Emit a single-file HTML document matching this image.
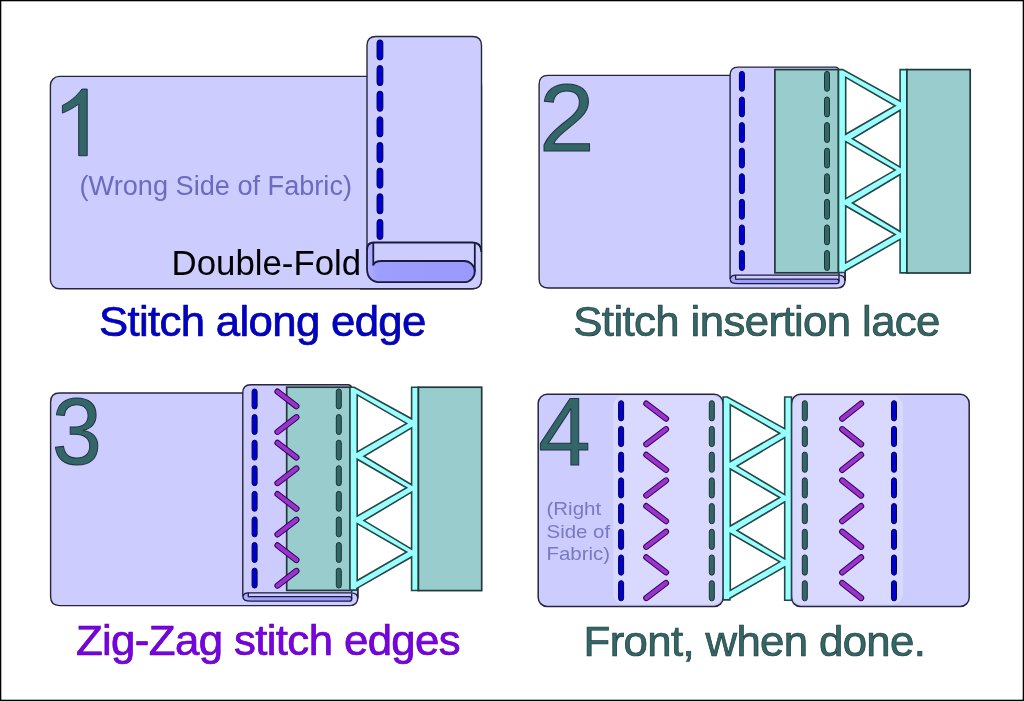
<!DOCTYPE html><html><head><meta charset="utf-8"><style>html,body{margin:0;padding:0;background:#fff;}svg{display:block;will-change:transform;}text{font-family:"Liberation Sans",sans-serif;}</style></head><body>
<svg width="1024" height="701" viewBox="0 0 1024 701">
<defs>
<linearGradient id="gTube" x1="0" y1="0" x2="1" y2="0"><stop offset="0" stop-color="#b0b0ff"/><stop offset="0.1" stop-color="#9e9eff"/><stop offset="1" stop-color="#9999ff"/></linearGradient>
<linearGradient id="gFold" x1="0" y1="0" x2="1" y2="0"><stop offset="0" stop-color="#b0b0ff"/><stop offset="0.1" stop-color="#c4c4ff"/><stop offset="1" stop-color="#ccccff"/></linearGradient>
</defs>
<rect x="0" y="0" width="1024" height="701" fill="#ffffff"/>
<rect x="50.4" y="76.4" width="431.1" height="212.4" rx="9" fill="#ccccff" stroke="#25253d" stroke-width="1.4"/>
<path d="M367.0,288.8 V45.5 Q367.0,36.5 376,36.5 H472.5 Q481.5,36.5 481.5,45.5 V279.8 Q481.5,288.8 472.5,288.8 Z" fill="#ccccff" stroke="none"/>
<path d="M367.0,250 V45.5 Q367.0,36.5 376,36.5 H472.5 Q481.5,36.5 481.5,45.5 V279.8 Q481.5,288.8 472.5,288.8 H360" fill="none" stroke="#25253d" stroke-width="1.4"/>
<rect x="377.05" y="39.9" width="5.8" height="20.1" rx="2.9" fill="#0000cc" stroke="#000055" stroke-width="1"/>
<rect x="377.05" y="65.54" width="5.8" height="20.1" rx="2.9" fill="#0000cc" stroke="#000055" stroke-width="1"/>
<rect x="377.05" y="91.18" width="5.8" height="20.1" rx="2.9" fill="#0000cc" stroke="#000055" stroke-width="1"/>
<rect x="377.05" y="116.82" width="5.8" height="20.1" rx="2.9" fill="#0000cc" stroke="#000055" stroke-width="1"/>
<rect x="377.05" y="142.46" width="5.8" height="20.1" rx="2.9" fill="#0000cc" stroke="#000055" stroke-width="1"/>
<rect x="377.05" y="168.1" width="5.8" height="20.1" rx="2.9" fill="#0000cc" stroke="#000055" stroke-width="1"/>
<rect x="377.05" y="193.74" width="5.8" height="20.1" rx="2.9" fill="#0000cc" stroke="#000055" stroke-width="1"/>
<rect x="377.05" y="219.38" width="5.8" height="20.1" rx="2.9" fill="#0000cc" stroke="#000055" stroke-width="1"/>
<path d="M373.3,242.5 V265.4 Q373.8,261 382,261 H464.2 A10.6,10.6 0 0 1 464.2,282.2 H380.7 Q367,282.2 367,268.2 V250 Q367,242.5 373.7,242.5 Z" fill="url(#gTube)" stroke="none"/>
<path d="M367,250 Q367,242.5 373.7,242.5 H472.3 Q481.4,242.5 481.4,252" fill="none" stroke="#1a1a3c" stroke-width="1.8"/>
<path d="M373.3,242.5 V265.4" fill="none" stroke="#1a1a3c" stroke-width="1.8"/>
<path d="M474.8,243.3 V271.6" fill="none" stroke="#1a1a3c" stroke-width="1.8"/>
<path d="M373.3,265.4 Q373.8,261 382,261 H464.2 A10.6,10.6 0 0 1 464.2,282.2 H380.7 Q367,282.2 367,268.2 V250" fill="none" stroke="#1a1a3c" stroke-width="1.8"/>
<path d="M87.2,155.7 H78.7 V104 C74,107.5 68,111 62.4,113.1 V105.4 C69,102.5 77,96 81.8,89.1 H87.2 Z" fill="#336666" stroke="#223344" stroke-width="1"/>
<text x="79.5" y="195" font-size="27.15" fill="#6b6bc0">(Wrong Side of Fabric)</text>
<text x="171.6" y="275.3" font-size="34.8" fill="#000000">Double-Fold</text>
<text transform="translate(99,336.4) scale(1.02,1)" x="0" y="0" font-size="42.9" letter-spacing="-0.66" fill="#0000cc" stroke="#000088" stroke-width="0.7">Stitch along edge</text>
<path d="M548.1,75.4 H731 V270 H845.1 V280 Q845.1,288 837,288 H548.1 Q539.1,288 539.1,279 V84.4 Q539.1,75.4 548.1,75.4 Z" fill="#ccccff" stroke="#25253d" stroke-width="1.4"/>
<path d="M730.1,288 V75.1 Q730.1,67.1 738.1,67.1 H835 Q839,67.1 839,71 V287.2 H730.3 Z" fill="#ccccff" stroke="none"/>
<path d="M730.1,279 V75.1 Q730.1,67.1 738.1,67.1 H835 Q839,67.1 839,71 V275" fill="none" stroke="#25253d" stroke-width="1.4"/>
<path d="M845.1,270 V280" fill="none" stroke="#25253d" stroke-width="1.4"/>
<rect x="739.4" y="71.4" width="5" height="19.9" rx="2.5" fill="#0000cc" stroke="#000055" stroke-width="1"/>
<rect x="739.4" y="96.99" width="5" height="19.9" rx="2.5" fill="#0000cc" stroke="#000055" stroke-width="1"/>
<rect x="739.4" y="122.58" width="5" height="19.9" rx="2.5" fill="#0000cc" stroke="#000055" stroke-width="1"/>
<rect x="739.4" y="148.17" width="5" height="19.9" rx="2.5" fill="#0000cc" stroke="#000055" stroke-width="1"/>
<rect x="739.4" y="173.76" width="5" height="19.9" rx="2.5" fill="#0000cc" stroke="#000055" stroke-width="1"/>
<rect x="739.4" y="199.35" width="5" height="19.9" rx="2.5" fill="#0000cc" stroke="#000055" stroke-width="1"/>
<rect x="739.4" y="224.94" width="5" height="19.9" rx="2.5" fill="#0000cc" stroke="#000055" stroke-width="1"/>
<rect x="739.4" y="250.53" width="5" height="19.9" rx="2.5" fill="#0000cc" stroke="#000055" stroke-width="1"/>
<rect x="774.9" y="69.6" width="63.5" height="203.2" fill="#99cccc" stroke="#223838" stroke-width="1.7"/>
<rect x="824.5" y="71.4" width="5" height="19.9" rx="2.5" fill="#336666" stroke="#1a3333" stroke-width="1"/>
<rect x="824.5" y="96.99" width="5" height="19.9" rx="2.5" fill="#336666" stroke="#1a3333" stroke-width="1"/>
<rect x="824.5" y="122.58" width="5" height="19.9" rx="2.5" fill="#336666" stroke="#1a3333" stroke-width="1"/>
<rect x="824.5" y="148.17" width="5" height="19.9" rx="2.5" fill="#336666" stroke="#1a3333" stroke-width="1"/>
<rect x="824.5" y="173.76" width="5" height="19.9" rx="2.5" fill="#336666" stroke="#1a3333" stroke-width="1"/>
<rect x="824.5" y="199.35" width="5" height="19.9" rx="2.5" fill="#336666" stroke="#1a3333" stroke-width="1"/>
<rect x="824.5" y="224.94" width="5" height="19.9" rx="2.5" fill="#336666" stroke="#1a3333" stroke-width="1"/>
<rect x="824.5" y="250.53" width="5" height="19.9" rx="2.5" fill="#336666" stroke="#1a3333" stroke-width="1"/>
<polygon points="838.5,69.6 842.7,69.6 900.1,101.2 900.1,69.6 906.9,69.6 906.9,272.9 900.1,272.9 900.1,239.4 845.3,270.8 845.3,272.5 838.5,272.5" fill="#99ffff" stroke="#264646" stroke-width="1.6" stroke-linejoin="miter"/>
<polygon points="845.7,77.3 845.7,134.3 895.1,105.8" fill="#ffffff" stroke="#264646" stroke-width="1.6"/>
<polygon points="845.7,141.6 845.7,198.6 895.1,170.1" fill="#ffffff" stroke="#264646" stroke-width="1.6"/>
<polygon points="845.7,205.95 845.7,262.95 895.1,234.45" fill="#ffffff" stroke="#264646" stroke-width="1.6"/>
<polygon points="900.1,110.2 900.1,167.2 852.5,138.7" fill="#ffffff" stroke="#264646" stroke-width="1.6"/>
<polygon points="900.1,174.5 900.1,231.5 852.5,203" fill="#ffffff" stroke="#264646" stroke-width="1.6"/>
<rect x="906.9" y="69.6" width="63.3" height="203.4" fill="#99cccc" stroke="#223838" stroke-width="1.7"/>
<path d="M735.6,275.2 V279.5 Q736.1,279.1 738,279.1 H836.75 A2.25,2.25 0 0 1 836.75,283.6 H738.3 Q730.3,283.6 730.3,279.4 V279.4 Q730.3,275.2 736,275.2 Z" fill="url(#gTube)" stroke="none"/>
<path d="M730.3,279.4 Q730.3,275.2 736,275.2 H838 Q845.1,275.2 845.1,281" fill="none" stroke="#1a1a3c" stroke-width="1.3"/>
<path d="M735.6,275.2 V279.5" fill="none" stroke="#1a1a3c" stroke-width="1.3"/>
<path d="M839,276 V281.35" fill="none" stroke="#1a1a3c" stroke-width="1.3"/>
<path d="M735.6,279.5 Q736.1,279.1 738,279.1 H836.75 A2.25,2.25 0 0 1 836.75,283.6 H738.3 Q730.3,283.6 730.3,279.4 V279.4" fill="none" stroke="#1a1a3c" stroke-width="1.3"/>
<text transform="translate(538.9,151) scale(1.04,1)" x="0" y="0" font-size="96" fill="#336666" stroke="#223344" stroke-width="1">2</text>
<text transform="translate(573.3,336.4) scale(1.02,1)" x="0" y="0" font-size="42.9" letter-spacing="-0.6" fill="#336666" stroke="#1d3838" stroke-width="0.7">Stitch insertion lace</text>
<path d="M59.6,393 H243.7 V587.6 H357.8 V597.6 Q357.8,605.6 349.7,605.6 H59.6 Q50.6,605.6 50.6,596.6 V402 Q50.6,393 59.6,393 Z" fill="#ccccff" stroke="#25253d" stroke-width="1.4"/>
<path d="M242.8,605.6 V392.7 Q242.8,384.7 250.8,384.7 H347.7 Q351.7,384.7 351.7,388.6 V604.8 H243 Z" fill="#ccccff" stroke="none"/>
<path d="M242.8,596.6 V392.7 Q242.8,384.7 250.8,384.7 H347.7 Q351.7,384.7 351.7,388.6 V592.6" fill="none" stroke="#25253d" stroke-width="1.4"/>
<path d="M357.8,587.6 V597.6" fill="none" stroke="#25253d" stroke-width="1.4"/>
<rect x="252.1" y="389" width="5" height="19.9" rx="2.5" fill="#0000cc" stroke="#000055" stroke-width="1"/>
<rect x="252.1" y="414.59" width="5" height="19.9" rx="2.5" fill="#0000cc" stroke="#000055" stroke-width="1"/>
<rect x="252.1" y="440.18" width="5" height="19.9" rx="2.5" fill="#0000cc" stroke="#000055" stroke-width="1"/>
<rect x="252.1" y="465.77" width="5" height="19.9" rx="2.5" fill="#0000cc" stroke="#000055" stroke-width="1"/>
<rect x="252.1" y="491.36" width="5" height="19.9" rx="2.5" fill="#0000cc" stroke="#000055" stroke-width="1"/>
<rect x="252.1" y="516.95" width="5" height="19.9" rx="2.5" fill="#0000cc" stroke="#000055" stroke-width="1"/>
<rect x="252.1" y="542.54" width="5" height="19.9" rx="2.5" fill="#0000cc" stroke="#000055" stroke-width="1"/>
<rect x="252.1" y="568.13" width="5" height="19.9" rx="2.5" fill="#0000cc" stroke="#000055" stroke-width="1"/>
<rect x="286.7" y="387.2" width="63.5" height="203.2" fill="#99cccc" stroke="#223838" stroke-width="1.7"/>
<rect x="336.3" y="389" width="5" height="19.9" rx="2.5" fill="#336666" stroke="#1a3333" stroke-width="1"/>
<rect x="336.3" y="414.59" width="5" height="19.9" rx="2.5" fill="#336666" stroke="#1a3333" stroke-width="1"/>
<rect x="336.3" y="440.18" width="5" height="19.9" rx="2.5" fill="#336666" stroke="#1a3333" stroke-width="1"/>
<rect x="336.3" y="465.77" width="5" height="19.9" rx="2.5" fill="#336666" stroke="#1a3333" stroke-width="1"/>
<rect x="336.3" y="491.36" width="5" height="19.9" rx="2.5" fill="#336666" stroke="#1a3333" stroke-width="1"/>
<rect x="336.3" y="516.95" width="5" height="19.9" rx="2.5" fill="#336666" stroke="#1a3333" stroke-width="1"/>
<rect x="336.3" y="542.54" width="5" height="19.9" rx="2.5" fill="#336666" stroke="#1a3333" stroke-width="1"/>
<rect x="336.3" y="568.13" width="5" height="19.9" rx="2.5" fill="#336666" stroke="#1a3333" stroke-width="1"/>
<line x1="277.5" y1="391.6" x2="296.4" y2="406.2" stroke="#330055" stroke-width="6.2" stroke-linecap="round"/>
<line x1="277.5" y1="391.6" x2="296.4" y2="406.2" stroke="#9933cc" stroke-width="4.2" stroke-linecap="round"/>
<line x1="296.4" y1="417.23" x2="277.5" y2="431.83" stroke="#330055" stroke-width="6.2" stroke-linecap="round"/>
<line x1="296.4" y1="417.23" x2="277.5" y2="431.83" stroke="#9933cc" stroke-width="4.2" stroke-linecap="round"/>
<line x1="277.5" y1="442.86" x2="296.4" y2="457.46" stroke="#330055" stroke-width="6.2" stroke-linecap="round"/>
<line x1="277.5" y1="442.86" x2="296.4" y2="457.46" stroke="#9933cc" stroke-width="4.2" stroke-linecap="round"/>
<line x1="296.4" y1="468.49" x2="277.5" y2="483.09" stroke="#330055" stroke-width="6.2" stroke-linecap="round"/>
<line x1="296.4" y1="468.49" x2="277.5" y2="483.09" stroke="#9933cc" stroke-width="4.2" stroke-linecap="round"/>
<line x1="277.5" y1="494.12" x2="296.4" y2="508.72" stroke="#330055" stroke-width="6.2" stroke-linecap="round"/>
<line x1="277.5" y1="494.12" x2="296.4" y2="508.72" stroke="#9933cc" stroke-width="4.2" stroke-linecap="round"/>
<line x1="296.4" y1="519.75" x2="277.5" y2="534.35" stroke="#330055" stroke-width="6.2" stroke-linecap="round"/>
<line x1="296.4" y1="519.75" x2="277.5" y2="534.35" stroke="#9933cc" stroke-width="4.2" stroke-linecap="round"/>
<line x1="277.5" y1="545.38" x2="296.4" y2="559.98" stroke="#330055" stroke-width="6.2" stroke-linecap="round"/>
<line x1="277.5" y1="545.38" x2="296.4" y2="559.98" stroke="#9933cc" stroke-width="4.2" stroke-linecap="round"/>
<line x1="296.4" y1="571.01" x2="277.5" y2="585.61" stroke="#330055" stroke-width="6.2" stroke-linecap="round"/>
<line x1="296.4" y1="571.01" x2="277.5" y2="585.61" stroke="#9933cc" stroke-width="4.2" stroke-linecap="round"/>
<polygon points="350,387.2 354.2,387.2 411.6,418.8 411.6,387.2 418.4,387.2 418.4,590.5 411.6,590.5 411.6,557 356.8,588.4 356.8,590.1 350,590.1" fill="#99ffff" stroke="#264646" stroke-width="1.6" stroke-linejoin="miter"/>
<polygon points="357.2,394.9 357.2,451.9 406.6,423.4" fill="#ffffff" stroke="#264646" stroke-width="1.6"/>
<polygon points="357.2,459.2 357.2,516.2 406.6,487.7" fill="#ffffff" stroke="#264646" stroke-width="1.6"/>
<polygon points="357.2,523.55 357.2,580.55 406.6,552.05" fill="#ffffff" stroke="#264646" stroke-width="1.6"/>
<polygon points="411.6,427.8 411.6,484.8 364,456.3" fill="#ffffff" stroke="#264646" stroke-width="1.6"/>
<polygon points="411.6,492.1 411.6,549.1 364,520.6" fill="#ffffff" stroke="#264646" stroke-width="1.6"/>
<rect x="418.4" y="387.2" width="63.3" height="203.4" fill="#99cccc" stroke="#223838" stroke-width="1.7"/>
<path d="M248.3,592.8 V597.1 Q248.8,596.7 250.7,596.7 H349.45 A2.25,2.25 0 0 1 349.45,601.2 H251 Q243,601.2 243,597 V597 Q243,592.8 248.7,592.8 Z" fill="url(#gTube)" stroke="none"/>
<path d="M243,597 Q243,592.8 248.7,592.8 H350.7 Q357.8,592.8 357.8,598.6" fill="none" stroke="#1a1a3c" stroke-width="1.3"/>
<path d="M248.3,592.8 V597.1" fill="none" stroke="#1a1a3c" stroke-width="1.3"/>
<path d="M351.7,593.6 V598.95" fill="none" stroke="#1a1a3c" stroke-width="1.3"/>
<path d="M248.3,597.1 Q248.8,596.7 250.7,596.7 H349.45 A2.25,2.25 0 0 1 349.45,601.2 H251 Q243,601.2 243,597 V597" fill="none" stroke="#1a1a3c" stroke-width="1.3"/>
<text transform="translate(52,464.2) scale(0.942,1)" x="0" y="0" font-size="95" fill="#336666" stroke="#223344" stroke-width="1">3</text>
<text transform="translate(75.9,654.6) scale(1.02,1)" x="0" y="0" font-size="42.9" letter-spacing="-0.6" fill="#7a00e6" stroke="#5a00aa" stroke-width="0.7">Zig-Zag stitch edges</text>
<rect x="538.2" y="394.3" width="185" height="212.2" rx="9" fill="#ccccff" stroke="#25253d" stroke-width="1.5"/>
<rect x="791.5" y="394.3" width="177.7" height="212.2" rx="9" fill="#ccccff" stroke="#25253d" stroke-width="1.5"/>
<rect x="613.3" y="396" width="109.2" height="208.3" rx="10" fill="#d9d9ff"/>
<rect x="792.3" y="396" width="110.7" height="208.3" rx="10" fill="#d9d9ff"/>
<rect x="618.6" y="400.7" width="5" height="20.2" rx="2.5" fill="#0000cc" stroke="#000055" stroke-width="1"/>
<rect x="618.6" y="426.41" width="5" height="20.2" rx="2.5" fill="#0000cc" stroke="#000055" stroke-width="1"/>
<rect x="618.6" y="452.12" width="5" height="20.2" rx="2.5" fill="#0000cc" stroke="#000055" stroke-width="1"/>
<rect x="618.6" y="477.83" width="5" height="20.2" rx="2.5" fill="#0000cc" stroke="#000055" stroke-width="1"/>
<rect x="618.6" y="503.54" width="5" height="20.2" rx="2.5" fill="#0000cc" stroke="#000055" stroke-width="1"/>
<rect x="618.6" y="529.25" width="5" height="20.2" rx="2.5" fill="#0000cc" stroke="#000055" stroke-width="1"/>
<rect x="618.6" y="554.96" width="5" height="20.2" rx="2.5" fill="#0000cc" stroke="#000055" stroke-width="1"/>
<rect x="618.6" y="580.67" width="5" height="20.2" rx="2.5" fill="#0000cc" stroke="#000055" stroke-width="1"/>
<rect x="709.3" y="400.7" width="5" height="20.2" rx="2.5" fill="#336666" stroke="#1a3333" stroke-width="1"/>
<rect x="709.3" y="426.41" width="5" height="20.2" rx="2.5" fill="#336666" stroke="#1a3333" stroke-width="1"/>
<rect x="709.3" y="452.12" width="5" height="20.2" rx="2.5" fill="#336666" stroke="#1a3333" stroke-width="1"/>
<rect x="709.3" y="477.83" width="5" height="20.2" rx="2.5" fill="#336666" stroke="#1a3333" stroke-width="1"/>
<rect x="709.3" y="503.54" width="5" height="20.2" rx="2.5" fill="#336666" stroke="#1a3333" stroke-width="1"/>
<rect x="709.3" y="529.25" width="5" height="20.2" rx="2.5" fill="#336666" stroke="#1a3333" stroke-width="1"/>
<rect x="709.3" y="554.96" width="5" height="20.2" rx="2.5" fill="#336666" stroke="#1a3333" stroke-width="1"/>
<rect x="709.3" y="580.67" width="5" height="20.2" rx="2.5" fill="#336666" stroke="#1a3333" stroke-width="1"/>
<rect x="802.3" y="400.7" width="5" height="20.2" rx="2.5" fill="#336666" stroke="#1a3333" stroke-width="1"/>
<rect x="802.3" y="426.41" width="5" height="20.2" rx="2.5" fill="#336666" stroke="#1a3333" stroke-width="1"/>
<rect x="802.3" y="452.12" width="5" height="20.2" rx="2.5" fill="#336666" stroke="#1a3333" stroke-width="1"/>
<rect x="802.3" y="477.83" width="5" height="20.2" rx="2.5" fill="#336666" stroke="#1a3333" stroke-width="1"/>
<rect x="802.3" y="503.54" width="5" height="20.2" rx="2.5" fill="#336666" stroke="#1a3333" stroke-width="1"/>
<rect x="802.3" y="529.25" width="5" height="20.2" rx="2.5" fill="#336666" stroke="#1a3333" stroke-width="1"/>
<rect x="802.3" y="554.96" width="5" height="20.2" rx="2.5" fill="#336666" stroke="#1a3333" stroke-width="1"/>
<rect x="802.3" y="580.67" width="5" height="20.2" rx="2.5" fill="#336666" stroke="#1a3333" stroke-width="1"/>
<rect x="891.5" y="400.7" width="5" height="20.2" rx="2.5" fill="#0000cc" stroke="#000055" stroke-width="1"/>
<rect x="891.5" y="426.41" width="5" height="20.2" rx="2.5" fill="#0000cc" stroke="#000055" stroke-width="1"/>
<rect x="891.5" y="452.12" width="5" height="20.2" rx="2.5" fill="#0000cc" stroke="#000055" stroke-width="1"/>
<rect x="891.5" y="477.83" width="5" height="20.2" rx="2.5" fill="#0000cc" stroke="#000055" stroke-width="1"/>
<rect x="891.5" y="503.54" width="5" height="20.2" rx="2.5" fill="#0000cc" stroke="#000055" stroke-width="1"/>
<rect x="891.5" y="529.25" width="5" height="20.2" rx="2.5" fill="#0000cc" stroke="#000055" stroke-width="1"/>
<rect x="891.5" y="554.96" width="5" height="20.2" rx="2.5" fill="#0000cc" stroke="#000055" stroke-width="1"/>
<rect x="891.5" y="580.67" width="5" height="20.2" rx="2.5" fill="#0000cc" stroke="#000055" stroke-width="1"/>
<line x1="646.3" y1="403.6" x2="666" y2="418.6" stroke="#330055" stroke-width="6.2" stroke-linecap="round"/>
<line x1="646.3" y1="403.6" x2="666" y2="418.6" stroke="#9933cc" stroke-width="4.2" stroke-linecap="round"/>
<line x1="666" y1="429.23" x2="646.3" y2="444.23" stroke="#330055" stroke-width="6.2" stroke-linecap="round"/>
<line x1="666" y1="429.23" x2="646.3" y2="444.23" stroke="#9933cc" stroke-width="4.2" stroke-linecap="round"/>
<line x1="646.3" y1="454.86" x2="666" y2="469.86" stroke="#330055" stroke-width="6.2" stroke-linecap="round"/>
<line x1="646.3" y1="454.86" x2="666" y2="469.86" stroke="#9933cc" stroke-width="4.2" stroke-linecap="round"/>
<line x1="666" y1="480.49" x2="646.3" y2="495.49" stroke="#330055" stroke-width="6.2" stroke-linecap="round"/>
<line x1="666" y1="480.49" x2="646.3" y2="495.49" stroke="#9933cc" stroke-width="4.2" stroke-linecap="round"/>
<line x1="646.3" y1="506.12" x2="666" y2="521.12" stroke="#330055" stroke-width="6.2" stroke-linecap="round"/>
<line x1="646.3" y1="506.12" x2="666" y2="521.12" stroke="#9933cc" stroke-width="4.2" stroke-linecap="round"/>
<line x1="666" y1="531.75" x2="646.3" y2="546.75" stroke="#330055" stroke-width="6.2" stroke-linecap="round"/>
<line x1="666" y1="531.75" x2="646.3" y2="546.75" stroke="#9933cc" stroke-width="4.2" stroke-linecap="round"/>
<line x1="646.3" y1="557.38" x2="666" y2="572.38" stroke="#330055" stroke-width="6.2" stroke-linecap="round"/>
<line x1="646.3" y1="557.38" x2="666" y2="572.38" stroke="#9933cc" stroke-width="4.2" stroke-linecap="round"/>
<line x1="666" y1="583.01" x2="646.3" y2="598.01" stroke="#330055" stroke-width="6.2" stroke-linecap="round"/>
<line x1="666" y1="583.01" x2="646.3" y2="598.01" stroke="#9933cc" stroke-width="4.2" stroke-linecap="round"/>
<line x1="861.1" y1="403.6" x2="842.2" y2="418.6" stroke="#330055" stroke-width="6.2" stroke-linecap="round"/>
<line x1="861.1" y1="403.6" x2="842.2" y2="418.6" stroke="#9933cc" stroke-width="4.2" stroke-linecap="round"/>
<line x1="842.2" y1="429.23" x2="861.1" y2="444.23" stroke="#330055" stroke-width="6.2" stroke-linecap="round"/>
<line x1="842.2" y1="429.23" x2="861.1" y2="444.23" stroke="#9933cc" stroke-width="4.2" stroke-linecap="round"/>
<line x1="861.1" y1="454.86" x2="842.2" y2="469.86" stroke="#330055" stroke-width="6.2" stroke-linecap="round"/>
<line x1="861.1" y1="454.86" x2="842.2" y2="469.86" stroke="#9933cc" stroke-width="4.2" stroke-linecap="round"/>
<line x1="842.2" y1="480.49" x2="861.1" y2="495.49" stroke="#330055" stroke-width="6.2" stroke-linecap="round"/>
<line x1="842.2" y1="480.49" x2="861.1" y2="495.49" stroke="#9933cc" stroke-width="4.2" stroke-linecap="round"/>
<line x1="861.1" y1="506.12" x2="842.2" y2="521.12" stroke="#330055" stroke-width="6.2" stroke-linecap="round"/>
<line x1="861.1" y1="506.12" x2="842.2" y2="521.12" stroke="#9933cc" stroke-width="4.2" stroke-linecap="round"/>
<line x1="842.2" y1="531.75" x2="861.1" y2="546.75" stroke="#330055" stroke-width="6.2" stroke-linecap="round"/>
<line x1="842.2" y1="531.75" x2="861.1" y2="546.75" stroke="#9933cc" stroke-width="4.2" stroke-linecap="round"/>
<line x1="861.1" y1="557.38" x2="842.2" y2="572.38" stroke="#330055" stroke-width="6.2" stroke-linecap="round"/>
<line x1="861.1" y1="557.38" x2="842.2" y2="572.38" stroke="#9933cc" stroke-width="4.2" stroke-linecap="round"/>
<line x1="842.2" y1="583.01" x2="861.1" y2="598.01" stroke="#330055" stroke-width="6.2" stroke-linecap="round"/>
<line x1="842.2" y1="583.01" x2="861.1" y2="598.01" stroke="#9933cc" stroke-width="4.2" stroke-linecap="round"/>
<polygon points="723.1,397 727.3,397 784.7,428.6 784.7,397 791.5,397 791.5,600.3 784.7,600.3 784.7,566.8 729.9,598.2 729.9,599.9 723.1,599.9" fill="#99ffff" stroke="#264646" stroke-width="1.6" stroke-linejoin="miter"/>
<polygon points="730.3,404.7 730.3,461.7 779.7,433.2" fill="#ffffff" stroke="#264646" stroke-width="1.6"/>
<polygon points="730.3,469 730.3,526 779.7,497.5" fill="#ffffff" stroke="#264646" stroke-width="1.6"/>
<polygon points="730.3,533.35 730.3,590.35 779.7,561.85" fill="#ffffff" stroke="#264646" stroke-width="1.6"/>
<polygon points="784.7,437.6 784.7,494.6 737.1,466.1" fill="#ffffff" stroke="#264646" stroke-width="1.6"/>
<polygon points="784.7,501.9 784.7,558.9 737.1,530.4" fill="#ffffff" stroke="#264646" stroke-width="1.6"/>
<text transform="translate(538.3,465) scale(0.985,1)" x="0" y="0" font-size="95.5" fill="#336666" stroke="#223344" stroke-width="1">4</text>
<g transform="translate(546.5,0) scale(1.1,1)" font-size="18.6" fill="#7878c4">
<text x="0" y="515.5">(Right</text>
<text x="0" y="538.5">Side of</text>
<text x="0" y="560.5">Fabric)</text>
</g>
<text transform="translate(583.6,655.5) scale(1.02,1)" x="0" y="0" font-size="42.9" letter-spacing="-0.64" fill="#336666" stroke="#1d3838" stroke-width="0.7">Front, when done.</text>
<rect x="0.6" y="0.6" width="1022.8" height="699.8" fill="none" stroke="#000" stroke-width="1.4"/>
</svg></body></html>
